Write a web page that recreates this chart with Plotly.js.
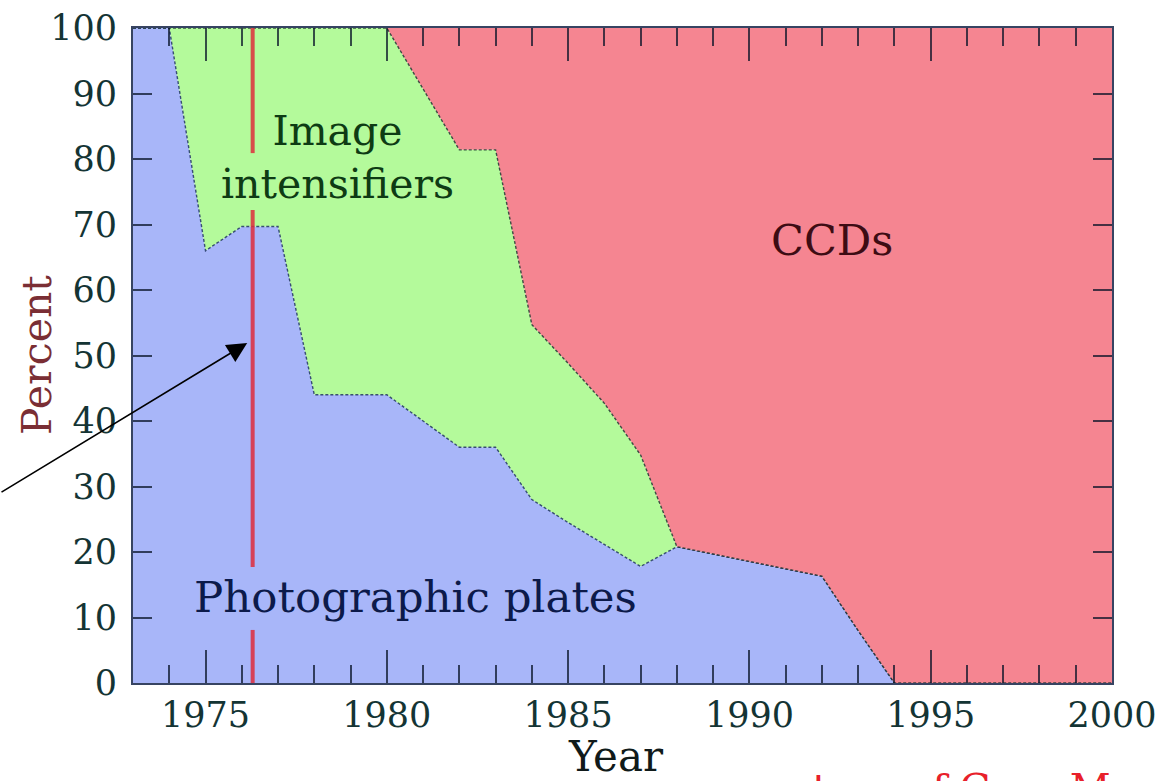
<!DOCTYPE html>
<html>
<head>
<meta charset="utf-8">
<script src="https://cdn.plot.ly/plotly-3.0.1.min.js"></script>
<style>
  html, body { margin: 0; padding: 0; background: #ffffff; }
  #chart { width: 1167px; height: 781px; }
</style>
</head>
<body>
<div id="chart"></div>
<script>
// ---- data ----
const years = [1973, 1974, 1975, 1976, 1977, 1978, 1979, 1980, 1981, 1982, 1983, 1984, 1985, 1986,
               1987, 1988, 1989, 1990, 1991, 1992, 1993, 1994, 1995, 1996, 1997, 1998, 1999, 2000];
const photographicPlates = [100, 100, 66, 69.7, 69.7, 44, 44, 44, 40, 36, 36, 28, 24.5, 21.2,
                            17.8, 20.8, 19.7, 18.6, 17.4, 16.3, 8, 0, 0, 0, 0, 0, 0, 0];
const imageIntensifiers = [0, 0, 34, 30.3, 30.3, 56, 56, 56, 50.7, 45.4, 45.4, 26.7, 24.3, 21.5,
                           17, 0, 0, 0, 0, 0, 0, 0, 0, 0, 0, 0, 0, 0];
const ccds = [0, 0, 0, 0, 0, 0, 0, 0, 9.3, 18.6, 18.6, 45.3, 51.2, 57.3,
              65.2, 79.2, 80.3, 81.4, 82.6, 83.7, 92, 100, 100, 100, 100, 100, 100, 100];
const xTickYears = [1975, 1980, 1985, 1990, 1995, 2000];
const yTickValues = [0, 10, 20, 30, 40, 50, 60, 70, 80, 90, 100];
const markerYear = 1976.3;
const markerSegments = [[100, 80.9], [72.2, 17.7], [8.1, 0]];
const arrowTip = {year: 1976.15, percent: 51.9};

// build marker line from segments (null-separated)
const markerX = [], markerY = [];
markerSegments.forEach((seg, i) => {
  if (i > 0) { markerX.push(null); markerY.push(null); }
  markerX.push(markerYear, markerYear);
  markerY.push(seg[0], seg[1]);
});

const serif = 'DejaVu Serif, Liberation Serif, serif';

const traces = [
  {
    x: years, y: photographicPlates, type: 'scatter', mode: 'lines',
    stackgroup: 'one', fillcolor: '#a8b6f9',
    line: {color: 'rgba(20,40,90,0.8)', width: 1.4, dash: '3px,2px'},
    hoverinfo: 'skip', name: 'Photographic plates'
  },
  {
    x: years, y: imageIntensifiers, type: 'scatter', mode: 'lines',
    stackgroup: 'one', fillcolor: '#b4fa9b',
    line: {color: 'rgba(20,45,40,0.8)', width: 1.4, dash: '3px,2px'},
    hoverinfo: 'skip', name: 'Image intensifiers'
  },
  {
    x: years, y: ccds, type: 'scatter', mode: 'lines',
    stackgroup: 'one', fillcolor: '#f58591',
    line: {color: 'rgba(0,0,0,0)', width: 0},
    hoverinfo: 'skip', name: 'CCDs'
  },
  {
    x: markerX, y: markerY, type: 'scatter', mode: 'lines',
    line: {color: 'rgba(222,45,60,0.85)', width: 4},
    hoverinfo: 'skip', connectgaps: false, name: 'marker'
  }
];

const axisLine = 'rgba(20,35,70,0.85)';
const tickCol = 'rgba(10,20,40,0.75)';

const layout = {
  width: 1167, height: 781,
  margin: {l: 133, r: 55, t: 28, b: 98},
  paper_bgcolor: '#ffffff', plot_bgcolor: '#ffffff',
  showlegend: false,
  xaxis: {
    range: [1973, 2000], tickmode: 'linear', tick0: xTickYears[0], dtick: xTickYears[1] - xTickYears[0],
    ticks: 'inside', ticklen: 33, tickwidth: 2, tickcolor: tickCol,
    minor: {dtick: 1, tick0: 1973, ticks: 'inside', ticklen: 18, tickwidth: 2, tickcolor: tickCol, showgrid: false},
    showgrid: false, zeroline: false, showline: true, linecolor: axisLine, linewidth: 2, mirror: 'ticks',
    tickfont: {family: serif, size: 35, color: '#143434'},
    ticklabelstandoff: 0,
    fixedrange: true
  },
  yaxis: {
    range: [0, 100], tickmode: 'array', tickvals: yTickValues,
    ticks: 'inside', ticklen: 19, tickwidth: 2, tickcolor: tickCol,
    showgrid: false, zeroline: false, showline: true, linecolor: axisLine, linewidth: 2, mirror: 'ticks',
    tickfont: {family: serif, size: 35, color: '#143434'},
    ticklabelstandoff: 7,
    fixedrange: true
  },
  annotations: [
    {x: 0.4934, y: -0.0725, xref: 'paper', yref: 'paper', text: 'Year', showarrow: false,
     font: {family: serif, size: 42, color: '#101a1a'}, xanchor: 'center', yanchor: 'top'},
    {x: -0.098, y: 0.501, xref: 'paper', yref: 'paper', text: 'Percent', showarrow: false, textangle: -90,
     font: {family: serif, size: 41, color: '#7a2e34'}, xanchor: 'center', yanchor: 'middle'},
    {x: 1978.63, y: 80.2, xref: 'x', yref: 'y', text: 'Image<br>intensifiers', showarrow: false,
     font: {family: serif, size: 41, color: '#0e3b14'}, xanchor: 'center', yanchor: 'middle', align: 'center'},
    {x: 1992.27, y: 67.7, xref: 'x', yref: 'y', text: 'CCDs', showarrow: false,
     font: {family: serif, size: 43, color: '#3d0c14'}, xanchor: 'center', yanchor: 'middle'},
    {x: 1980.79, y: 13.1, xref: 'x', yref: 'y', text: 'Photographic plates', showarrow: false,
     font: {family: serif, size: 43.5, color: '#0c1a4a'}, xanchor: 'center', yanchor: 'middle'},
    {x: arrowTip.year, y: arrowTip.percent, xref: 'x', yref: 'y', text: '', showarrow: true,
     ax: -248, ay: 150, axref: 'pixel', ayref: 'pixel',
     arrowhead: 2, arrowsize: 2.5, arrowwidth: 1.6, arrowcolor: '#000000', standoff: 0},
    {x: 0.5986, y: -0.1217, xref: 'paper', yref: 'paper', text: 'courtesy of Gary M', showarrow: false,
     font: {family: serif, size: 40, color: '#e8202a'}, xanchor: 'left', yanchor: 'top'}
  ]
};

Plotly.newPlot('chart', traces, layout, {displayModeBar: false, staticPlot: true});
</script>
</body>
</html>
